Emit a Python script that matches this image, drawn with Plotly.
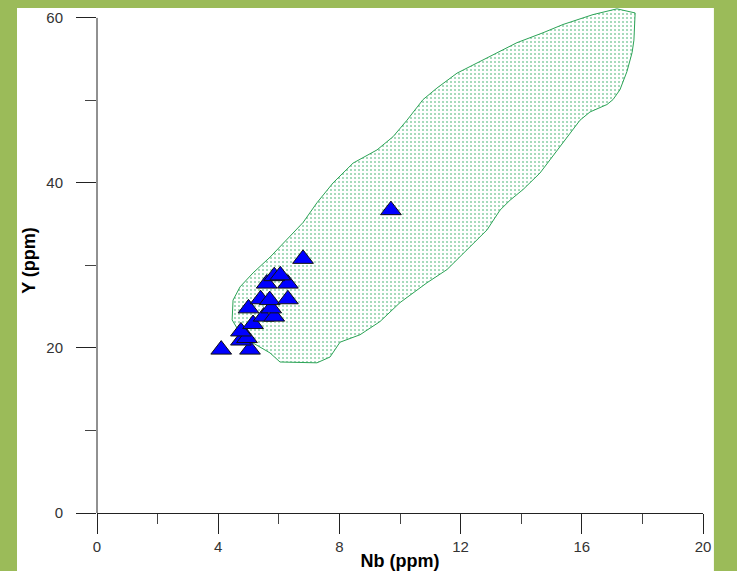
import plotly.graph_objects as go

# Sample points (Nb ppm, Y ppm)
nb_samples = [4.1, 5.05, 4.75, 4.95, 4.75, 5.15, 5.5, 5.85, 5.0, 5.75,
              5.4, 5.7, 6.3, 5.6, 6.3, 5.85, 6.05, 6.8, 9.7]
y_samples = [19.8, 19.8, 20.9, 21.2, 22.0, 22.9, 23.8, 23.8, 24.8, 24.8,
             25.9, 25.8, 25.9, 27.8, 27.8, 28.7, 28.8, 30.8, 36.7]

# Reference field outline (Nb ppm, Y ppm)
field_nb = [6.04, 5.71, 5.15, 4.72, 4.46, 4.49, 4.72, 5.15, 5.71, 6.27,
            6.80, 7.26, 7.79, 8.45, 9.24, 9.77, 10.23, 10.76, 11.22, 11.88,
            12.64, 13.20, 13.86, 14.72, 15.38, 16.37, 17.16, 17.76, 17.72, 17.66,
            17.49, 17.26, 17.03, 16.83, 16.27, 15.94, 15.38, 14.95, 14.62, 14.06,
            13.63, 13.30, 12.87, 12.21, 11.55, 10.89, 10.00, 9.34, 8.68, 8.02,
            7.69, 7.26, 6.04]
field_y = [18.3, 19.4, 20.6, 21.8, 23.4, 25.8, 27.4, 29.1, 31.0, 33.1,
           35.2, 37.6, 40.0, 42.4, 44.0, 45.6, 47.6, 50.1, 51.5, 53.3,
           54.7, 55.8, 57.0, 58.2, 59.2, 60.4, 61.1, 60.6, 57.3, 55.8,
           53.5, 51.3, 50.1, 49.5, 48.6, 47.6, 44.8, 42.8, 41.2, 39.2,
           37.9, 36.7, 34.3, 31.9, 29.5, 27.9, 25.5, 23.2, 21.6, 20.7,
           18.9, 18.2, 18.3]

x_major = [0, 4, 8, 12, 16, 20]
x_minor = [2, 6, 10, 14, 18]
y_major = [0, 20, 40, 60]
y_minor = [10, 30, 50]

fig = go.Figure()
fig.add_trace(go.Scatter(
    x=field_nb, y=field_y, mode="lines", fill="toself",
    line=dict(color="#2BA356", width=1),
    fillcolor="rgba(255,255,255,0)",
    fillpattern=dict(shape=".", size=4, solidity=0.22,
                     fgcolor="#22A356", bgcolor="white"),
    hoverinfo="skip", showlegend=False))
fig.add_trace(go.Scatter(
    x=nb_samples, y=y_samples, mode="markers",
    marker=dict(symbol="triangle-up", size=18, color="#0000FF",
                line=dict(color="#111111", width=1)),
    showlegend=False))

tick_font = dict(family="Liberation Sans, Arial, sans-serif", size=15, color="#333333")
title_font = dict(family="Liberation Sans, Arial, sans-serif", size=18, color="#000000")

fig.update_layout(
    width=737, height=571,
    margin=dict(l=97, r=34, t=8, b=58),
    paper_bgcolor="#9BBB59",
    plot_bgcolor="white",
    shapes=[
        dict(type="rect", xref="paper", yref="paper",
             x0=-0.132, x1=1.018, y0=-0.2, y1=1.0,
             fillcolor="white", line=dict(width=0), layer="below"),
        dict(type="line", xref="paper", yref="y", x0=0, x1=0, y0=0, y1=60,
             line=dict(color="#222222", width=1)),
    ],
    xaxis=dict(range=[0, 20], tickvals=x_major, ticktext=[str(v) for v in x_major],
               ticks="outside", ticklen=20, tickcolor="#222222", tickwidth=1,
               minor=dict(tickvals=x_minor, ticks="outside", ticklen=10,
                          tickcolor="#444444"),
               showline=True, linecolor="#222222", linewidth=1,
               showgrid=False, zeroline=False, tickfont=tick_font,
               title=dict(text="<b>Nb (ppm)</b>", font=title_font, standoff=0),
               automargin=False),
    yaxis=dict(range=[0, 61.2], tickvals=y_major, ticktext=[str(v) for v in y_major],
               ticks="outside", ticklen=20, tickcolor="#222222", tickwidth=1,
               ticklabelstandoff=10,
               minor=dict(tickvals=y_minor, ticks="outside", ticklen=11,
                          tickcolor="#444444"),
               showline=False, showgrid=False, zeroline=False, tickfont=tick_font,
               title=dict(text="<b>Y (ppm)</b>", font=title_font, standoff=6),
               automargin=False),
)

fig.write_html("out.html")
